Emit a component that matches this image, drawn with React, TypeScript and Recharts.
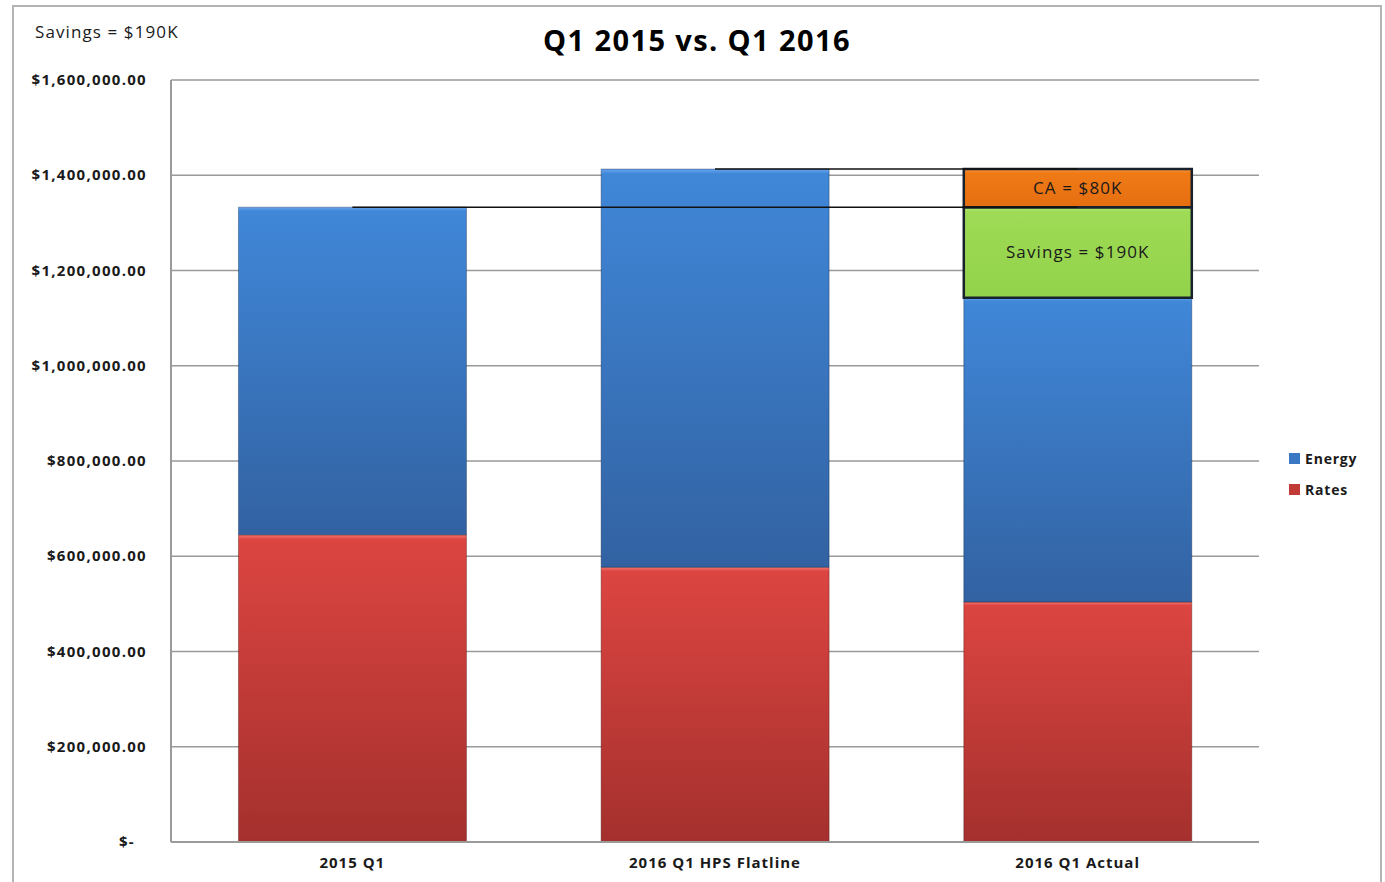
import React from 'react';
import {
  BarChart,
  Bar,
  XAxis,
  YAxis,
  CartesianGrid,
  Legend,
  ReferenceLine,
  LabelList,
} from 'recharts';

const categories = ['2015 Q1', '2016 Q1 HPS Flatline', '2016 Q1 Actual'];
const rates = [645000, 577000, 504000];
const energy = [688000, 836000, 639000];
const savings = [0, 0, 190000];
const ca = [0, 0, 80000];
const yTicks = [0, 200000, 400000, 600000, 800000, 1000000, 1200000, 1400000, 1600000];

const title = 'Q1 2015 vs. Q1 2016';
const savingsLabel = 'Savings = $190K';
const caLabel = 'CA = $80K';

const data = categories.map((name, i) => ({
  name,
  rates: rates[i],
  energy: energy[i],
  savings: savings[i],
  ca: ca[i],
}));

// totals used by the two connector lines
const flatlineTotal = rates[1] + energy[1];
const baseTotal = rates[0] + energy[0];

const FONT = '"Open Sans", "Noto Sans", sans-serif';

const money = (v: number) =>
  v === 0 ? '$-' : '$' + v.toLocaleString('en-US', { minimumFractionDigits: 2 });

const YTick = ({ x, y, payload }: any) => {
  const v = payload.value;
  return (
    <text
      x={v === 0 ? x - 12 : x}
      y={y}
      dy={5}
      textAnchor="end"
      fontFamily={FONT}
      fontWeight={700}
      fontSize={15}
      letterSpacing={1.3}
      fill="#1a1a1a"
    >
      {money(v)}
    </text>
  );
};

const XTick = ({ x, y, payload }: any) => (
  <text
    x={x}
    y={y}
    dy={26}
    textAnchor="middle"
    fontFamily={FONT}
    fontWeight={700}
    fontSize={15}
    letterSpacing={1}
    fill="#1a1a1a"
  >
    {payload.value}
  </text>
);

const boxLabel = (text: string) => (props: any) => {
  const { x, y, width, height, value } = props;
  if (!value) return null;
  return (
    <text
      x={x + width / 2}
      y={y + height / 2}
      dy={6}
      textAnchor="middle"
      fontFamily={FONT}
      fontSize={17}
      letterSpacing={1.1}
      fill="#1a1a1a"
    >
      {text}
    </text>
  );
};

const legendItems = [
  { key: 'energy', name: 'Energy', color: '#3a78c4' },
  { key: 'rates', name: 'Rates', color: '#c23a36' },
];

const LegendBox = () => (
  <div style={{ fontFamily: FONT }}>
    {legendItems.map((item) => (
      <div
        key={item.key}
        style={{ display: 'flex', alignItems: 'center', height: 31, fontSize: 14, fontWeight: 700, letterSpacing: 0.8, color: '#1a1a1a' }}
      >
        <span style={{ display: 'inline-block', width: 11, height: 11, background: item.color, marginRight: 5 }} />
        {item.name}
      </div>
    ))}
  </div>
);

export default function App() {
  return (
    <div style={{ position: 'absolute', left: 0, top: 0, width: 1385, height: 882, overflow: 'hidden', background: '#fff' }}>
      <div
        style={{
          position: 'absolute',
          left: 12,
          top: 5,
          width: 1366,
          height: 920,
          border: '2px solid #b4b4b4',
        }}
      />
      <div
        style={{
          position: 'absolute',
          left: 35,
          top: 20,
          fontFamily: FONT,
          fontSize: 17,
          letterSpacing: 1.1,
          color: '#1a1a1a',
          lineHeight: '24px',
        }}
      >
        {savingsLabel}
      </div>
      <div
        style={{
          position: 'absolute',
          left: 0,
          width: 1394,
          top: 20,
          textAlign: 'center',
          fontFamily: FONT,
          fontWeight: 700,
          fontSize: 29,
          letterSpacing: 1.4,
          lineHeight: '40px',
          color: '#000',
        }}
      >
        {title}
      </div>
      <BarChart
        width={1385}
        height={882}
        data={data}
        margin={{ top: 80, right: 36, bottom: 0, left: 0 }}
        barCategoryGap="18.6%"
        style={{ position: 'absolute', left: 0, top: 0 }}
      >
        <defs>
          <linearGradient id="gRates" x1="0" y1="0" x2="0" y2="1">
            <stop offset="0" stopColor="#f47570" />
            <stop offset="0.015" stopColor="#dc4541" />
            <stop offset="1" stopColor="#a4302d" />
          </linearGradient>
          <linearGradient id="gEnergy" x1="0" y1="0" x2="0" y2="1">
            <stop offset="0" stopColor="#6aa6ee" />
            <stop offset="0.012" stopColor="#4087d8" />
            <stop offset="1" stopColor="#3262a2" />
          </linearGradient>
          <linearGradient id="gSavings" x1="0" y1="0" x2="0" y2="1">
            <stop offset="0" stopColor="#b6ea78" />
            <stop offset="0.05" stopColor="#9fdb56" />
            <stop offset="1" stopColor="#92d24a" />
          </linearGradient>
          <linearGradient id="gCa" x1="0" y1="0" x2="0" y2="1">
            <stop offset="0" stopColor="#f79a48" />
            <stop offset="0.1" stopColor="#f07a16" />
            <stop offset="1" stopColor="#e56f10" />
          </linearGradient>
        </defs>
        <CartesianGrid vertical={false} stroke="#9a9a9a" strokeWidth={1.5} />
        <XAxis
          dataKey="name"
          height={40}
          tickLine={false}
          tickSize={0}
          tickMargin={0}
          axisLine={{ stroke: '#9a9a9a', strokeWidth: 2 }}
          tick={<XTick />}
          interval={0}
        />
        <YAxis
          width={171}
          domain={[0, 1600000]}
          ticks={yTicks}
          tickLine={false}
          tickSize={0}
          tickMargin={24}
          axisLine={{ stroke: '#9a9a9a', strokeWidth: 2 }}
          tick={<YTick />}
          interval={0}
        />
        <Legend
          layout="horizontal"
          verticalAlign="middle"
          align="right"
          wrapperStyle={{ position: 'absolute', left: 1289, top: 443, width: 90 }}
          content={<LegendBox />}
        />
        <Bar dataKey="rates" name="Rates" stackId="a" fill="url(#gRates)" stroke="rgba(60,10,10,0.35)" strokeWidth={1} isAnimationActive={false} />
        <Bar dataKey="energy" name="Energy" stackId="a" fill="url(#gEnergy)" stroke="rgba(10,25,60,0.35)" strokeWidth={1} isAnimationActive={false} />
        <Bar dataKey="savings" name="Savings" stackId="a" fill="url(#gSavings)" stroke="#18222f" strokeWidth={2.5} legendType="none" isAnimationActive={false}>
          <LabelList dataKey="savings" content={boxLabel(savingsLabel)} />
        </Bar>
        <Bar dataKey="ca" name="CA" stackId="a" fill="url(#gCa)" stroke="#18222f" strokeWidth={2.5} legendType="none" isAnimationActive={false}>
          <LabelList dataKey="ca" content={boxLabel(caLabel)} />
        </Bar>
        <ReferenceLine
          segment={[
            { x: categories[1], y: flatlineTotal },
            { x: categories[2], y: flatlineTotal },
          ]}
          stroke="#111"
          strokeWidth={1.5}
        />
        <ReferenceLine
          segment={[
            { x: categories[0], y: baseTotal },
            { x: categories[2], y: baseTotal },
          ]}
          stroke="#111"
          strokeWidth={1.5}
        />
      </BarChart>
    </div>
  );
}
